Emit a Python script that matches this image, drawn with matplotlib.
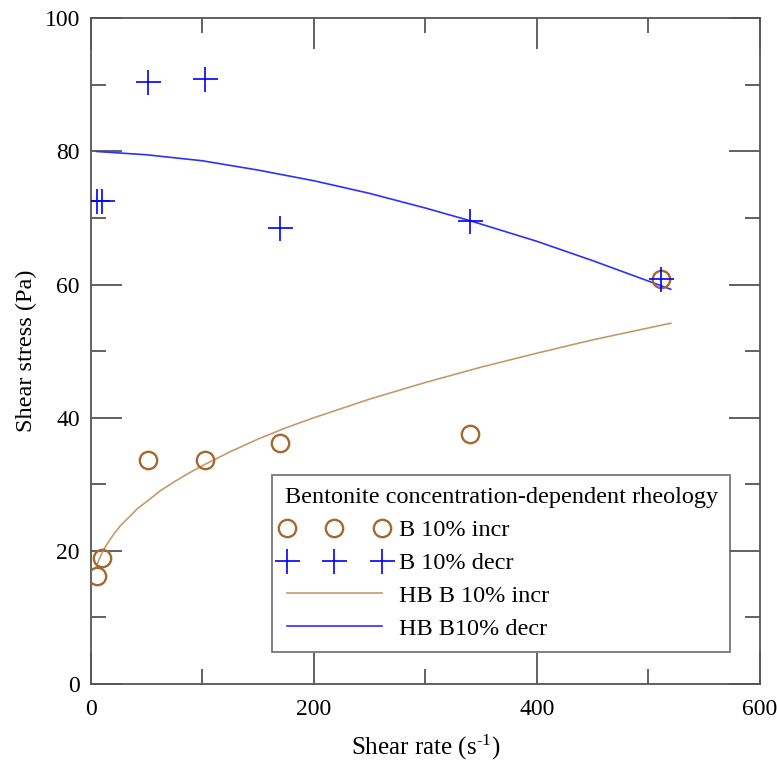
import matplotlib
matplotlib.use("Agg")
import matplotlib.pyplot as plt
from matplotlib.ticker import MultipleLocator
from matplotlib.legend_handler import HandlerLine2D

plt.rcParams['font.family'] = ['Liberation Serif', 'DejaVu Serif']
plt.rcParams['mathtext.fontset'] = 'custom'
plt.rcParams['mathtext.rm'] = 'Liberation Serif'
plt.rcParams['mathtext.it'] = 'Liberation Serif:italic'

# measured data
shear_rate = [5.1, 10.2, 51, 102, 170, 340, 511]
stress_incr = [16.3, 18.9, 33.6, 33.6, 36.2, 37.6, 60.8]
stress_decr = [72.5, 72.5, 90.4, 90.9, 68.5, 69.5, 60.8]

# HB fitted curves
hb_incr_x = [5, 7, 10, 14, 20, 27, 35, 42, 50, 62, 75, 87, 100, 125, 150, 175, 200,
             250, 300, 350, 400, 450, 520]
hb_incr_y = [17.7, 18.6, 19.7, 20.9, 22.4, 23.9, 25.2, 26.4, 27.4, 29.0, 30.4, 31.6, 32.8,
             34.9, 36.8, 38.5, 40.0, 42.8, 45.3, 47.6, 49.7, 51.7, 54.2]
hb_decr_x = [5, 50, 100, 150, 200, 250, 300, 340, 400, 450, 520]
hb_decr_y = [80.0, 79.5, 78.6, 77.2, 75.6, 73.7, 71.5, 69.6, 66.5, 63.6, 59.3]

brown = '#A5692D'
tan = '#C49A6C'
blue = '#0000FF'
lblue = '#2F2FFF'

fig = plt.figure(figsize=(7.77, 7.63), dpi=100)
ax = fig.add_axes([0.117, 0.1035, 0.861, 0.8725])

l3, = ax.plot(hb_incr_x, hb_incr_y, color=tan, lw=1.2, zorder=2)
l4, = ax.plot(hb_decr_x, hb_decr_y, color=lblue, lw=1.2, zorder=2)
l1, = ax.plot(shear_rate, stress_incr, ls='none', marker='o', ms=12.5, mfc='none',
              mec=brown, mew=1.7, zorder=3)
l2, = ax.plot(shear_rate, stress_decr, ls='none', marker='+', ms=18, color=blue,
              mew=1.2, zorder=3)

ax.set_xlim(0, 600)
ax.set_ylim(0, 100)
ax.xaxis.set_major_locator(MultipleLocator(200))
ax.xaxis.set_minor_locator(MultipleLocator(100))
ax.yaxis.set_major_locator(MultipleLocator(20))
ax.yaxis.set_minor_locator(MultipleLocator(10))
ax.tick_params(which='both', direction='in', top=True, right=True, color='#555555',
               width=1.3, labelsize=17)
ax.tick_params(axis='x', pad=11)
ax.tick_params(axis='y', pad=8)
ax.tick_params(which='major', length=22)
ax.tick_params(which='minor', length=11)
for sp in ax.spines.values():
    sp.set_color('#555555')
    sp.set_linewidth(1.3)

ax.set_xlabel(r'Shear rate (s$^{\text{-1}}$)', fontsize=18, labelpad=9)
ax.set_ylabel('Shear stress (Pa)', fontsize=17.5, labelpad=5)

handles = [l1, l2, l3, l4]
labels = ['B 10% incr', 'B 10% decr', 'HB B 10% incr', 'HB B10% decr']
hmap = {h: HandlerLine2D(marker_pad=0.1) for h in handles}
leg = ax.legend(handles, labels, title='Bentonite concentration-dependent rheology',
                loc='lower right', bbox_to_anchor=(0.955, 0.048), fontsize=17.5,
                title_fontsize=17.5, numpoints=3, handlelength=4.1, handletextpad=0.6,
                frameon=True, fancybox=False, edgecolor='#555555', borderpad=0.5,
                labelspacing=0.45, borderaxespad=0, handler_map=hmap)
leg.get_frame().set_linewidth(1.3)
leg._legend_box.align = 'left'

fig.savefig('out.png', dpi=100)
